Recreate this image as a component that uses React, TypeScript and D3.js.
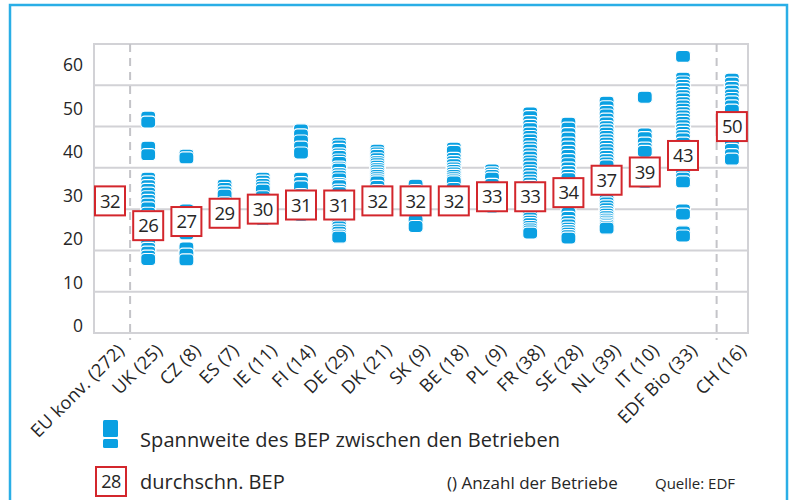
import { useEffect, useRef } from 'react';
import * as d3 from 'd3';

// categories with farm counts, EU konv. first, CH after a separator
const categories = [
  'EU konv. (272)', 'UK (25)', 'CZ (8)', 'ES (7)', 'IE (11)', 'FI (14)', 'DE (29)', 'DK (21)',
  'SK (9)', 'BE (18)', 'PL (9)', 'FR (38)', 'SE (28)', 'NL (39)', 'IT (10)', 'EDF Bio (33)', 'CH (16)',
];

// average break-even point per group
const averages = [32, 26, 27, 29, 30, 31, 31, 32, 32, 32, 33, 33, 34, 37, 39, 43, 50];

// break-even points of the single farms
const farmsEU: number[] = [];
const farmsUK = [52.3, 51.1, 45, 43.2, 37.5, 36.6, 35.7, 34.8, 33.9, 33, 32.1, 31.2, 30.3, 29, 28.2, 27.5, 26, 25.2, 24.5, 23, 21.5, 20.5, 19.6, 18.6, 17.8];
const farmsCZ = [43.1, 42.4, 29.8, 28.6, 24, 20.6, 19.1, 17.7];
const farmsES = [35.8, 35, 34.2, 33.4, 31.5, 29.5, 27.5];
const farmsIE = [37.5, 36.8, 36, 35.3, 34.6, 33, 31.5, 30, 29, 28, 27.5];
const farmsFI = [49.2, 48, 46.5, 45, 43.6, 37.5, 36.4, 35.4, 33.5, 32, 31, 30, 29, 28.5];
const farmsDE = [46, 45.3, 44.5, 43.4, 42.8, 41.9, 41.3, 40.2, 39.7, 38.6, 38, 37.3, 36.2, 35.7, 34.6, 34, 33, 32.1, 30.8, 30, 29.2, 28, 27.2, 26.3, 25.7, 25, 24.4, 23.7, 23.2];
const farmsDK = [44.3, 43.6, 43, 42.2, 41.5, 41, 40.4, 39.8, 39.3, 38.7, 38.2, 37.6, 37.1, 36.6, 35.5, 34.5, 33.5, 32.5, 31.5, 30.5, 30];
const farmsSK = [35.8, 34.5, 33.3, 32, 31, 30, 28.6, 27.2, 25.8];
const farmsBE = [44.8, 44, 42.3, 41.5, 40.8, 40, 39.4, 38.8, 38.2, 37.6, 37.1, 36.6, 35, 33.8, 32.6, 31.5, 30.5, 30];
const farmsPL = [39.5, 38.8, 38.2, 37.5, 36, 34.5, 33, 31.5, 30.5];
const farmsFR = [53.3, 52.4, 51.2, 50.3, 49.5, 48.4, 47.6, 46.8, 45.9, 45, 44.3, 43.4, 42.6, 41.7, 41, 40.2, 39.3, 38.6, 37.8, 37, 36.3, 35.5, 34.6, 33.8, 33, 32.2, 31.5, 30.7, 30, 29.2, 28.5, 27.8, 27.1, 26.5, 25.8, 25.2, 24.7, 24.2];
const farmsSE = [50.8, 49.6, 48.3, 47.2, 46, 45, 44, 43, 42, 41, 40, 39.1, 38.2, 37.4, 36, 34.5, 33, 31.5, 30, 29, 28, 27, 26.2, 25.4, 24.8, 24.2, 23.6, 23];
const farmsNL = [55.9, 54.8, 53.7, 52.8, 51.8, 50.9, 50, 49.2, 48.4, 47.6, 46.8, 46, 45.2, 44.4, 43.6, 42.8, 42, 41.2, 40.5, 39, 38.2, 37.5, 36, 35.2, 34.5, 33, 32.2, 31.5, 30.8, 30.1, 29.4, 28.8, 28.2, 27.6, 27.1, 26.6, 26.2, 25.8, 25.4];
const farmsIT = [57.1, 48.2, 47.3, 46, 44.8, 44, 41, 39.5, 38, 36.5];
const farmsBio = [67, 61.7, 60.8, 60, 59.2, 58.3, 57.5, 56.7, 55.8, 55, 54.2, 53.4, 52.6, 51.8, 51, 50.2, 49.4, 48.6, 47.8, 47, 46, 45, 44, 42, 41, 40, 38.4, 37.5, 36.6, 29.8, 28.8, 24.5, 23.5];
const farmsCH = [61.5, 60.5, 59.5, 58.6, 57.7, 56.8, 56, 55, 54, 52, 50, 48, 46, 44.5, 43.2, 42.1];

const farms = [farmsEU, farmsUK, farmsCZ, farmsES, farmsIE, farmsFI, farmsDE, farmsDK, farmsSK, farmsBE, farmsPL, farmsFR, farmsSE, farmsNL, farmsIT, farmsBio, farmsCH];

const yTicks = [0, 10, 20, 30, 40, 50, 60];
const gridValues = [10, 20, 30, 40, 50, 60];

const BLUE = '#0aa0e2';
const RED = '#d3262c';
const TEXT = '#262626';
const FONT = '"Open Sans", "DejaVu Sans", sans-serif';

function App() {
  const ref = useRef<SVGSVGElement>(null);

  useEffect(() => {
    const width = 793;
    const height = 500;
    const svg = d3.select(ref.current).attr('width', width).attr('height', height);
    svg.selectAll('*').remove();

    const left = 94;
    const right = 748;

    const y = d3.scaleLinear().domain([0, 70]).range([333, 44]);
    // the printed tick labels sit on their own spacing
    const yLabel = d3.scaleLinear().domain([0, 60]).range([326, 65]);

    const main = categories.slice(0, 16);
    const x = d3.scalePoint<string>().domain(main).range([110, 683]);
    const step = x.step();
    const xPos = (i: number) =>
      i < 16 ? (x(categories[i]) as number) : (x(main[15]) as number) + step * 1.28;

    // outer frame
    svg
      .append('rect')
      .attr('x', 10)
      .attr('y', 5)
      .attr('width', 777)
      .attr('height', 520)
      .attr('fill', 'none')
      .attr('stroke', '#2aaee6')
      .attr('stroke-width', 2.5);

    // grid
    svg
      .append('g')
      .selectAll('line')
      .data(gridValues)
      .join('line')
      .attr('x1', left)
      .attr('x2', right)
      .attr('y1', d => y(d))
      .attr('y2', d => y(d))
      .attr('stroke', '#d2d2d6')
      .attr('stroke-width', 2);

    svg
      .append('rect')
      .attr('x', left)
      .attr('y', y(70))
      .attr('width', right - left)
      .attr('height', y(0) - y(70))
      .attr('fill', 'none')
      .attr('stroke', '#d2d2d6')
      .attr('stroke-width', 2);

    // dashed separators
    const sepX = [
      ((x(main[0]) as number) + (x(main[1]) as number)) / 2 + 1,
      xPos(16) - step * 0.4,
    ];
    svg
      .append('g')
      .selectAll('line')
      .data(sepX)
      .join('line')
      .attr('x1', d => d)
      .attr('x2', d => d)
      .attr('y1', y(70))
      .attr('y2', y(0) + 7)
      .attr('stroke', '#c4c4c8')
      .attr('stroke-width', 2)
      .attr('stroke-dasharray', '8,6');

    // y tick labels
    svg
      .append('g')
      .selectAll('text')
      .data(yTicks)
      .join('text')
      .attr('x', 83)
      .attr('y', d => yLabel(d))
      .attr('dy', '0.35em')
      .attr('text-anchor', 'end')
      .attr('font-family', FONT)
      .attr('font-size', 17.5)
      .attr('font-weight', 500)
      .attr('fill', TEXT)
      .text(d => d);

    // farm markers
    const mw = 15;
    const mh = 12;
    farms.forEach((vals, i) => {
      const cx = xPos(i);
      const sorted = [...vals].sort((a, b) => b - a);
      svg
        .append('g')
        .selectAll('rect')
        .data(sorted)
        .join('rect')
        .attr('x', cx - mw / 2)
        .attr('y', d => y(d) - mh / 2)
        .attr('width', mw)
        .attr('height', mh)
        .attr('rx', 4)
        .attr('fill', BLUE)
        .attr('stroke', '#fff')
        .attr('stroke-width', 1.2);
    });

    // average boxes
    const bw = 30;
    const bh = 29;
    const boxes = svg
      .append('g')
      .selectAll('g')
      .data(averages)
      .join('g')
      .attr('transform', (d, i) => `translate(${xPos(i)},${y(d)})`);
    boxes
      .append('rect')
      .attr('x', -bw / 2)
      .attr('y', -bh / 2)
      .attr('width', bw)
      .attr('height', bh)
      .attr('fill', '#fff')
      .attr('stroke', RED)
      .attr('stroke-width', 2);
    boxes
      .append('text')
      .attr('text-anchor', 'middle')
      .attr('dy', '0.36em')
      .attr('font-family', FONT)
      .attr('font-size', 18.5)
      .attr('letter-spacing', -0.6)
      .attr('fill', TEXT)
      .text(d => d);

    // category labels
    svg
      .append('g')
      .selectAll('text')
      .data(categories)
      .join('text')
      .attr('transform', (d, i) => `translate(${xPos(i) + 11},${347}) rotate(-45)`)
      .attr('dy', '0.35em')
      .attr('text-anchor', 'end')
      .attr('font-family', FONT)
      .attr('font-size', 18)
      .attr('letter-spacing', 0.3)
      .attr('fill', TEXT)
      .text(d => d);

    // legend
    const legend = svg.append('g').attr('font-family', FONT).attr('fill', TEXT);
    legend
      .append('rect')
      .attr('x', 103)
      .attr('y', 420)
      .attr('width', 15)
      .attr('height', 17)
      .attr('rx', 1.5)
      .attr('fill', BLUE);
    legend
      .append('rect')
      .attr('x', 103)
      .attr('y', 439)
      .attr('width', 15)
      .attr('height', 9)
      .attr('rx', 1.5)
      .attr('fill', BLUE);
    legend
      .append('text')
      .attr('x', 140)
      .attr('y', 447)
      .attr('font-size', 20)
      .attr('letter-spacing', 0.1)
      .text('Spannweite des BEP zwischen den Betrieben');

    legend
      .append('rect')
      .attr('x', 96)
      .attr('y', 467)
      .attr('width', 30)
      .attr('height', 29)
      .attr('fill', '#fff')
      .attr('stroke', RED)
      .attr('stroke-width', 2);
    legend
      .append('text')
      .attr('x', 111)
      .attr('y', 481.5)
      .attr('dy', '0.36em')
      .attr('text-anchor', 'middle')
      .attr('font-size', 18)
      .attr('letter-spacing', -0.6)
      .text('28');
    legend
      .append('text')
      .attr('x', 140)
      .attr('y', 489)
      .attr('font-size', 20)
      .text('durchschn. BEP');
    legend
      .append('text')
      .attr('x', 447)
      .attr('y', 489)
      .attr('font-size', 17)
      .text('() Anzahl der Betriebe');
    legend
      .append('text')
      .attr('x', 655)
      .attr('y', 489)
      .attr('font-size', 15)
      .text('Quelle: EDF');
  }, []);

  return (
    <svg
      ref={ref}
      role="img"
      aria-label="Break-even point je Land"
      style={{ position: 'absolute', left: 0, top: 0, display: 'block' }}
    />
  );
}

export default App;
